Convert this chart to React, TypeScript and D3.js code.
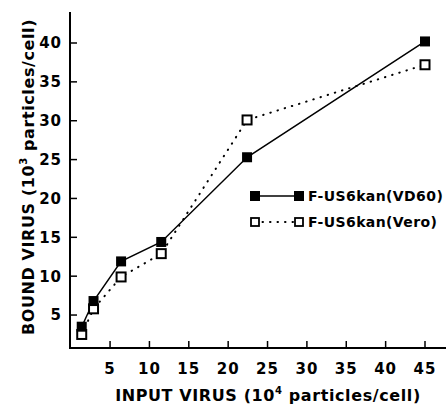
import * as d3 from 'd3'

const inputVirus = [1.4, 2.9, 6.4, 11.5, 22.4, 45]
const boundVD60 = [3.5, 6.8, 11.9, 14.4, 25.3, 40.2]
const boundVero = [2.5, 5.8, 9.9, 12.9, 30.1, 37.2]
const xTicks = [5, 10, 15, 20, 25, 30, 35, 40, 45]
const yTicks = [5, 10, 15, 20, 25, 30, 35, 40]
const seriesNames = ['F-US6kan(VD60)', 'F-US6kan(Vero)']

const W = 447
const H = 410
const FONT = '"DejaVu Sans", Arial, sans-serif'

export default function App() {
  const x = d3.scaleLinear().domain([0, 45]).range([70.7, 425])
  const y = d3.scaleLinear().domain([0, 40]).range([353.9, 43])
  const axisX = 70
  const axisY = 348

  const line = d3.line<number>()
    .x((_, i) => x(inputVirus[i]))

  const vd60Path = line.y(d => y(d))(boundVD60) || ''
  const veroPath = line.y(d => y(d))(boundVero) || ''

  const sq = 10
  const legX1 = 255
  const legX2 = 299
  const legY = [196, 222]

  return (
    <svg width={W} height={H} style={{ position: 'absolute', left: 0, top: 0, background: '#fff' }}
      fontFamily={FONT} fontWeight="bold">
      {/* axes */}
      <line x1={axisX} y1={12} x2={axisX} y2={axisY + 1} stroke="#000" strokeWidth={2} />
      <line x1={axisX - 1} y1={axisY} x2={446} y2={axisY} stroke="#000" strokeWidth={2} />
      {yTicks.map(t => (
        <g key={'y' + t}>
          <line x1={axisX} x2={axisX + 7} y1={y(t)} y2={y(t)} stroke="#000" strokeWidth={1.5} />
          <text x={62} y={y(t)} dy="0.36em" textAnchor="end" fontSize={15} letterSpacing={1}>{t}</text>
        </g>
      ))}
      {xTicks.map(t => (
        <g key={'x' + t}>
          <line x1={x(t)} x2={x(t)} y1={axisY} y2={axisY - 7} stroke="#000" strokeWidth={1.5} />
          <text x={x(t)} y={374} textAnchor="middle" fontSize={15} letterSpacing={1}>{t}</text>
        </g>
      ))}
      <text x={268} y={401} textAnchor="middle" fontSize={16} letterSpacing={0.6}>
        INPUT VIRUS (10<tspan dy={-7} fontSize={10}>4</tspan><tspan dy={7}> particles/cell)</tspan>
      </text>
      <text transform="translate(34,177) rotate(-90)" textAnchor="middle" fontSize={16} letterSpacing={0.6}>
        BOUND VIRUS (10<tspan dy={-7} fontSize={10}>3</tspan><tspan dy={7}> particles/cell)</tspan>
      </text>

      {/* series */}
      <path d={veroPath} fill="none" stroke="#000" strokeWidth={2} strokeDasharray="0.5,7" strokeLinecap="round" />
      <path d={vd60Path} fill="none" stroke="#000" strokeWidth={1.5} />
      {boundVero.map((v, i) => (
        <rect key={'o' + i} x={x(inputVirus[i]) - 4.5} y={y(v) - 4.5} width={9} height={9}
          fill="#fff" stroke="#000" strokeWidth={2} />
      ))}
      {boundVD60.map((v, i) => (
        <rect key={'f' + i} x={x(inputVirus[i]) - sq / 2} y={y(v) - sq / 2} width={sq} height={sq} fill="#000" />
      ))}

      {/* legend */}
      <line x1={legX1} x2={legX2} y1={legY[0]} y2={legY[0]} stroke="#000" strokeWidth={1.5} />
      <rect x={legX1 - 5} y={legY[0] - 5} width={10} height={10} fill="#000" />
      <rect x={legX2 - 5} y={legY[0] - 5} width={10} height={10} fill="#000" />
      <text x={308} y={legY[0]} dy="0.36em" fontSize={14} letterSpacing={0.4}>{seriesNames[0]}</text>
      <line x1={legX1} x2={legX2} y1={legY[1]} y2={legY[1]} stroke="#000" strokeWidth={2}
        strokeDasharray="0.5,7" strokeLinecap="round" />
      <rect x={legX1 - 4} y={legY[1] - 4} width={8} height={8} fill="#fff" stroke="#000" strokeWidth={1.8} />
      <rect x={legX2 - 4} y={legY[1] - 4} width={8} height={8} fill="#fff" stroke="#000" strokeWidth={1.8} />
      <text x={308} y={legY[1]} dy="0.36em" fontSize={14} letterSpacing={0.4}>{seriesNames[1]}</text>
    </svg>
  )
}
